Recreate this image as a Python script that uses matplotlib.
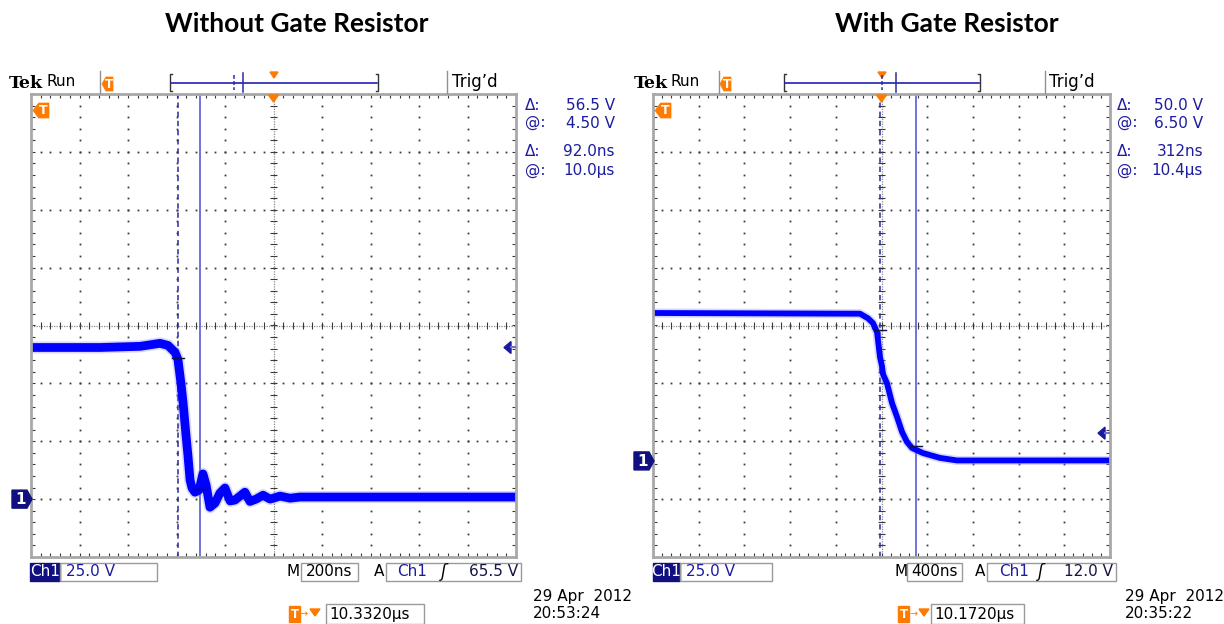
import numpy as np
import matplotlib.pyplot as plt
from matplotlib.patches import Rectangle, Polygon
from matplotlib.collections import LineCollection

W, H = 1224, 624

# ============================================================
# Values
# ============================================================

titles = ["Without Gate Resistor", "With Gate Resistor"]

# Ch1 trace: time in ns from the trigger point, volts
left_t = [-1000, -715, -550, -468, -435, -406, -394, -381, -373, -361, -353,
          -344, -336, -324, -307, -291, -278, -262, -241, -221, -200, -179,
          -159, -118, -97, -72, -43, -14, 27, 68, 109, 1000]
left_v = [65.5, 65.5, 66.0, 67.3, 66.4, 63.4, 60.3, 49.5, 41.7, 27.8, 19.1,
          8.2, 4.8, 3.0, 3.9, 10.9, 6.1, -3.5, -1.7, 2.6, 4.8, -0.8,
          -0.4, 3.0, -1.0, 0.0, 1.7, 0.0, 1.3, 0.4, 0.9, 0.9]

right_t = [-2000, -188, -118, -74, -39, -13, 4, 13, 48, 92, 136, 180, 223,
           267, 363, 512, 661, 2000]
right_v = [63.9, 63.6, 61.6, 59.5, 55.6, 44.8, 41.0, 37.5, 33.6, 25.0, 19.0,
           12.5, 8.2, 5.6, 3.4, 1.3, 0.2, 0.2]

traces = [(left_t, left_v), (right_t, right_v)]

volts_per_div = [25.0, 25.0]
ns_per_div = [200.0, 400.0]
ground_div = [-3.0, -2.34]          # ch1 ground marker, divisions from centre
trig_level = [65.5, 12.0]
cursor_t = [(-394, -302), (-13, 299)]
cursor_v = [(61.0, 4.5), (56.5, 6.5)]

readouts = [["56.5 V", "4.50 V", "92.0ns", "10.0µs"],
            ["50.0 V", "6.50 V", "312ns", "10.4µs"]]
scale_text = ["25.0 V", "25.0 V"]
time_text = ["200ns", "400ns"]
trig_text = ["65.5 V", "12.0 V"]
pos_text = ["10.3320µs", "10.1720µs"]
date_text = ["29 Apr  2012", "29 Apr  2012"]
clock_text = ["20:53:24", "20:35:22"]

# ============================================================
# Layout (pixel positions of the scope chrome)
# ============================================================

TOP, BOT = 94, 557
layout = [
    dict(sx0=31, sx1=516, tek=9, run=46, sep1=100, tmark=102, br0=170, br1=378,
         bar_dash=234, bar_solid=243, bar_trig=274, sep2=447, trigd=452,
         ro_lab=525, ro_val=615, ch_box=(30, 60), sc_box=(60, 157), m_x=287,
         tb_box=(301, 358), a_x=374, tr_box=(386, 521), tr_ch=397, tr_slope=441,
         tpos=289, pos_box=(326, 424), date_x=533, title_x=297, lw=6.3),
    dict(sx0=653, sx1=1110, tek=634, run=670, sep1=719, tmark=720, br0=784, br1=980,
         bar_dash=882, bar_solid=896, bar_trig=882, sep2=1045, trigd=1049,
         ro_lab=1117, ro_val=1203, ch_box=(653, 680), sc_box=(680, 772), m_x=895,
         tb_box=(907, 962), a_x=975, tr_box=(987, 1116), tr_ch=999, tr_slope=1038,
         tpos=898, pos_box=(931, 1024), date_x=1125, title_x=947, lw=4.2),
]

BLUE = "#1c1ca0"
TRACE = "#0000ff"
ORANGE = "#ff7a00"
FONT = "DejaVu Sans"

fig = plt.figure(figsize=(W / 100, H / 100), dpi=100)
ov = fig.add_axes([0, 0, 1, 1], zorder=5)
ov.set_xlim(0, W)
ov.set_ylim(H, 0)
ov.axis("off")
ov.patch.set_alpha(0)


def txt(x, y, s, size=11, color="black", ha="left", **kw):
    ov.text(x, y, s, fontsize=size, color=color, ha=ha, va="center",
            family=kw.pop("family", FONT), **kw)


def t_marker(x, y, w, h, size=8.5):
    pts = [(x, y + h / 2), (x + w * 0.35, y), (x + w, y), (x + w, y + h), (x + w * 0.35, y + h)]
    ov.add_patch(Polygon(pts, closed=True, fc=ORANGE, ec=ORANGE, lw=0.5))
    txt(x + w * 0.62, y + h / 2 + 0.5, "T", size=size, color="white", ha="center", weight="bold")


def draw_grid(ax, tdiv, vdiv, gnd):
    X = lambda d: np.asarray(d, dtype=float) * tdiv
    Y = lambda d: (np.asarray(d, dtype=float) - gnd) * vdiv
    fine_x = np.arange(-5, 5.001, 0.2)
    fine_y = np.arange(-4, 4.001, 0.2)
    dot = dict(ls="none", marker="s", ms=1.3, mew=0, color="#3a3a3a")
    for k in range(-4, 5):
        if k:
            ax.plot(np.full_like(fine_y, X(k)), Y(fine_y), **dot)
    for j in range(-3, 4):
        if j:
            ax.plot(X(fine_x), np.full_like(fine_x, Y(j)), **dot)

    # centre cross-hair
    ax.plot(X([-5, 5]), Y([0, 0]), color="#8a8a8a", lw=0.9, ls=(0, (1, 1)))
    ax.plot(X([0, 0]), Y([-4, 4]), color="#8a8a8a", lw=0.9, ls=(0, (1, 1)))

    segs = []
    for d in fine_x:
        segs.append([(X(d), Y(-0.06)), (X(d), Y(0.06))])
        segs.append([(X(d), Y(4)), (X(d), Y(3.93))])
        segs.append([(X(d), Y(-4)), (X(d), Y(-3.93))])
    for d in fine_y:
        segs.append([(X(-0.07), Y(d)), (X(0.07), Y(d))])
        segs.append([(X(-5), Y(d)), (X(-4.92), Y(d))])
        segs.append([(X(5), Y(d)), (X(4.92), Y(d))])
    ax.add_collection(LineCollection(segs, colors="#3a3a3a", linewidths=0.8))


for i, p in enumerate(layout):
    tdiv, vdiv, gnd = ns_per_div[i], volts_per_div[i], ground_div[i]
    ax = fig.add_axes([p["sx0"] / W, 1 - BOT / H, (p["sx1"] - p["sx0"]) / W, (BOT - TOP) / H])
    ax.set_xlim(-5 * tdiv, 5 * tdiv)
    ax.set_ylim((-4 - gnd) * vdiv, (4 - gnd) * vdiv)
    ax.set_xticks([])
    ax.set_yticks([])
    for sp in ax.spines.values():
        sp.set_color("#a8a8a8")
        sp.set_linewidth(2)

    draw_grid(ax, tdiv, vdiv, gnd)

    # cursors
    ax.axvline(cursor_t[i][0], color="#2a2a9a", lw=1.1, ls=(0, (3.5, 2.5)))
    ax.axvline(cursor_t[i][1], color="#5a5ad8", lw=1.2)

    # trace, with a faint halo for the noise band
    t, v = traces[i]
    ax.plot(t, v, color="#8080ff", lw=p["lw"] + 2.4, alpha=0.3, solid_joinstyle="round")
    ax.plot(t, v, color=TRACE, lw=p["lw"], solid_joinstyle="round")

    # cursor cross marks on the trace
    for ct, cv in zip(cursor_t[i], cursor_v[i]):
        ax.plot([ct - 0.13 * tdiv, ct + 0.13 * tdiv], [cv, cv], color="#101040", lw=1.0)

    # pixel positions of ground / trigger level / trigger time
    fig.canvas.draw()
    _, gy = ax.transData.transform((0, 0))
    _, ty = ax.transData.transform((0, trig_level[i]))
    tx, _ = ax.transData.transform((0, 0))
    gy, ty = H - gy, H - ty

    # ground marker "1"
    x0 = p["sx0"]
    pts = [(x0 - 19, gy - 9), (x0 - 4, gy - 9), (x0 + 1, gy), (x0 - 4, gy + 9), (x0 - 19, gy + 9)]
    ov.add_patch(Polygon(pts, closed=True, fc="#101080", ec="#101080"))
    txt(x0 - 10, gy + 0.5, "1", size=11, color="white", ha="center", weight="bold")

    # trigger level arrow
    x1 = p["sx1"]
    ov.add_patch(Polygon([(x1 - 12, ty), (x1 - 5, ty - 6), (x1 - 5, ty + 6)], closed=True,
                         fc="#1a1aa0", ec="#1a1aa0"))
    ov.plot([x1 - 5, x1 - 1], [ty, ty], color="#7070d0", lw=1.5)

    # trigger position on the screen top
    ov.add_patch(Polygon([(tx - 5, TOP + 1), (tx + 5, TOP + 1), (tx, TOP + 8)], closed=True,
                         fc=ORANGE, ec=ORANGE))
    t_marker(x0 + 2, 103, 16, 15, size=9)

    # ---- header ----
    txt(p["tek"], 83, "Tek", size=12.5, weight="bold", family="DejaVu Serif")
    txt(p["run"], 82, "Run", size=11)
    ov.plot([p["sep1"], p["sep1"]], [71, 93], color="#909090", lw=1)
    t_marker(p["tmark"], 77, 11, 14)
    b0, b1 = p["br0"], p["br1"]
    ov.plot([b0 + 2, b0, b0, b0 + 2], [74, 74, 91, 91], color="#333333", lw=1)
    ov.plot([b1 - 2, b1, b1, b1 - 2], [74, 74, 91, 91], color="#333333", lw=1)
    ov.plot([b0 + 1, b1 - 1], [82.5, 82.5], color="#2020b0", lw=1.2)
    ov.plot([p["bar_dash"]] * 2, [75, 90], color="#2a2aa8", lw=1.1, ls=(0, (2.5, 1.5)))
    ov.plot([p["bar_solid"]] * 2, [73, 92], color="#2a2aa8", lw=1.1)
    bt = p["bar_trig"]
    ov.add_patch(Polygon([(bt - 4, 72), (bt + 4, 72), (bt, 78)], closed=True, fc=ORANGE, ec=ORANGE))
    ov.plot([p["sep2"], p["sep2"]], [71, 93], color="#909090", lw=1)
    txt(p["trigd"], 82, "Trig\u2019d", size=12)

    # ---- cursor readouts ----
    for row, (lab, y) in enumerate(zip(["\u0394:", "@:", "\u0394:", "@:"], [105, 123, 151, 170])):
        txt(p["ro_lab"], y, lab, size=11, color=BLUE)
        txt(p["ro_val"], y, readouts[i][row], size=11, color=BLUE, ha="right")

    # ---- bottom status line ----
    c0, c1 = p["ch_box"]
    ov.add_patch(Rectangle((c0, 563), c1 - c0, 18, fc="#101080", ec="#101080"))
    txt((c0 + c1) / 2, 572, "Ch1", size=11, color="white", ha="center")
    s0, s1 = p["sc_box"]
    ov.add_patch(Rectangle((s0, 563), s1 - s0, 18, fc="none", ec="#9a9a9a", lw=1))
    txt(s0 + 6, 572, scale_text[i], size=11, color=BLUE)
    txt(p["m_x"], 572, "M", size=11)
    m0, m1 = p["tb_box"]
    ov.add_patch(Rectangle((m0, 563), m1 - m0, 18, fc="none", ec="#9a9a9a", lw=1))
    txt((m0 + m1) / 2, 572, time_text[i], size=11, ha="center")
    txt(p["a_x"], 572, "A", size=11)
    a0, a1 = p["tr_box"]
    ov.add_patch(Rectangle((a0, 563), a1 - a0, 18, fc="none", ec="#9a9a9a", lw=1))
    txt(p["tr_ch"], 572, "Ch1", size=11, color=BLUE)
    txt(p["tr_slope"], 572, "\u0283", size=12, style="italic")
    txt(a1 - 3, 572, trig_text[i], size=11, ha="right", color="#151545")

    tp = p["tpos"]
    ov.add_patch(Rectangle((tp, 606), 11, 16, fc=ORANGE, ec=ORANGE))
    txt(tp + 5.5, 614, "T", size=8.5, color="white", ha="center", weight="bold")
    txt(tp + 11, 614, "\u2192", size=7, color=ORANGE)
    ov.add_patch(Polygon([(tp + 21, 609), (tp + 31, 609), (tp + 26, 616)], closed=True,
                         fc=ORANGE, ec=ORANGE))
    q0, q1 = p["pos_box"]
    ov.add_patch(Rectangle((q0, 604), q1 - q0, 20, fc="none", ec="#9a9a9a", lw=1))
    txt(q0 + 3, 614, pos_text[i], size=11)
    txt(p["date_x"], 596, date_text[i], size=11)
    txt(p["date_x"], 614, clock_text[i], size=11)

    # ---- title ----
    ov.text(p["title_x"], 24, titles[i], fontsize=19, weight="bold", ha="center",
            va="center", family=["Lato", "DejaVu Sans"])

fig.savefig("out.png", dpi=100)
